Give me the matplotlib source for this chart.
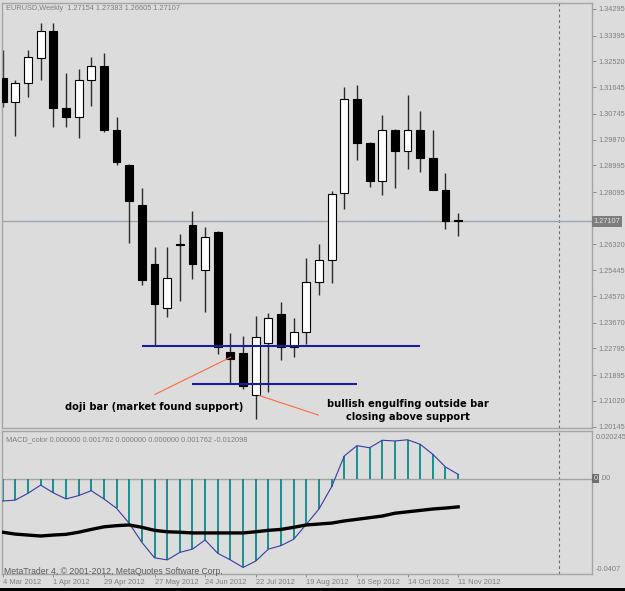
import matplotlib
matplotlib.use("Agg")
import matplotlib.pyplot as plt
import matplotlib.transforms as mtransforms
from matplotlib.patches import Rectangle

# ---------------- data ----------------
week_idx = list(range(37))
opens = [1.3196, 1.3114, 1.3178, 1.3264, 1.3355, 1.3095, 1.3063, 1.3189, 1.3236, 1.3020,
         1.2901, 1.2766, 1.2565, 1.2415, 1.2634, 1.2698, 1.2545, 1.2675, 1.2267, 1.2264,
         1.2122, 1.2297, 1.2396, 1.2283, 1.2336, 1.2504, 1.2579, 1.2805, 1.3124, 1.2977,
         1.2848, 1.3020, 1.2950, 1.3020, 1.2924, 1.2818, 1.27154]
highs = [1.3291, 1.3189, 1.3291, 1.3383, 1.3381, 1.3212, 1.3225, 1.3266, 1.3279, 1.3063,
         1.2905, 1.2822, 1.2622, 1.2624, 1.2666, 1.2745, 1.2690, 1.2678, 1.2331, 1.2322,
         1.2390, 1.2399, 1.2438, 1.2382, 1.2587, 1.2633, 1.2814, 1.3164, 1.3171, 1.2980,
         1.3069, 1.3022, 1.3138, 1.3084, 1.3020, 1.2873, 1.27383]
lows = [1.3098, 1.3000, 1.3132, 1.3189, 1.3031, 1.3031, 1.2994, 1.3102, 1.3014, 1.2901,
        1.2638, 1.2494, 1.2288, 1.2385, 1.2440, 1.2515, 1.2404, 1.2260, 1.2158, 1.2141,
        1.2040, 1.2133, 1.2240, 1.2252, 1.2294, 1.2461, 1.2500, 1.2751, 1.2918, 1.2826,
        1.2799, 1.2822, 1.2888, 1.2878, 1.2815, 1.2685, 1.26605]
closes = [1.3114, 1.3179, 1.3266, 1.3355, 1.3095, 1.3063, 1.3189, 1.3236, 1.3020, 1.2912,
          1.2780, 1.2511, 1.2429, 1.2517, 1.2631, 1.2566, 1.2658, 1.2286, 1.2244, 1.2153,
          1.2317, 1.2382, 1.2283, 1.2336, 1.2506, 1.2579, 1.2803, 1.3125, 1.2977, 1.2848,
          1.3020, 1.2950, 1.3020, 1.2924, 1.2816, 1.2712, 1.27107]

macd = [-0.0096, -0.0092, -0.0063, -0.0028, -0.0061, -0.0087, -0.0073, -0.0052, -0.0087, -0.0127,
        -0.0191, -0.0272, -0.0338, -0.0347, -0.0315, -0.0301, -0.0262, -0.0319, -0.0347, -0.0379,
        -0.0352, -0.0301, -0.0286, -0.0259, -0.0195, -0.0130, -0.0035, 0.0096, 0.0140, 0.0131,
        0.0163, 0.0160, 0.0165, 0.0146, 0.0103, 0.0049, 0.001762]
signal = [-0.0229, -0.0237, -0.0241, -0.0245, -0.0241, -0.0238, -0.0229, -0.0217, -0.0206, -0.0201,
          -0.0198, -0.0208, -0.0221, -0.0227, -0.0229, -0.0232, -0.0232, -0.0232, -0.0232, -0.0232,
          -0.0227, -0.0221, -0.0217, -0.0208, -0.0198, -0.0194, -0.0190, -0.0181, -0.0174, -0.0167,
          -0.0160, -0.0148, -0.0142, -0.0136, -0.0130, -0.0126, -0.012098]

price_ticks = [1.34295, 1.33395, 1.32520, 1.31645, 1.30745, 1.29870, 1.28995, 1.28095, 1.27220,
               1.26320, 1.25445, 1.24570, 1.23670, 1.22795, 1.21895, 1.21020, 1.20145]
hidden_tick = 1.27220   # label covered by the current-price box in the reference
date_tick_idx = [0, 4, 8, 12, 16, 20, 24, 28, 32, 36]
date_labels = ["4 Mar 2012", "1 Apr 2012", "29 Apr 2012", "27 May 2012", "24 Jun 2012",
               "22 Jul 2012", "19 Aug 2012", "16 Sep 2012", "14 Oct 2012", "11 Nov 2012"]
last_price = 1.27107
future_line_idx = 44

# support lines: (price, start index, end index)
supports = [(1.2287, 11, 33), (1.2158, 15, 28)]
# annotation pointer lines: (x0, y0, x1, y1)
pointers = [(18.02, 1.2250, 12.04, 1.2124), (20.28, 1.2120, 24.95, 1.2054)]
notes = [(11.94, 1.2080, "doji bar (market found support)"),
         (32.0, 1.2091, "bullish engulfing outside bar"),
         (32.0, 1.2046, "closing above support")]

title_txt = "EURUSD,Weekly  1.27154 1.27383 1.26605 1.27107"
macd_txt = "MACD_color 0.000000 0.001762 0.000000 0.000000 0.001762 -0.012098"
copy_txt = "MetaTrader 4, \u00a9 2001-2012, MetaQuotes Software Corp."

# ---------------- style ----------------
BG = "#dcdcdc"
GRAY = "#7f7f7f"
BORDER = "#a4a4a4"
SMALL = dict(family="Liberation Sans", fontsize=5.3, color=GRAY)

W, H = 625, 591
fig = plt.figure(figsize=(W / 100, H / 100), dpi=100, facecolor=BG)
ax1 = fig.add_axes([2 / W, 1 - 428 / H, 590 / W, 425 / H], facecolor=BG)
ax2 = fig.add_axes([2 / W, 1 - 574 / H, 590 / W, 143 / H], facecolor=BG)

xlim = (-0.055, 46.58)
for ax in (ax1, ax2):
    ax.set_xlim(*xlim)
    for s in ax.spines.values():
        s.set_color(BORDER)
        s.set_linewidth(1.0)
    ax.axvline(future_line_idx, color="#6a6a6a", lw=0.8, ls=(0, (2.5, 2.5)), zorder=1)

# ---------------- price panel ----------------
ax1.set_ylim(1.20101, 1.34498)
ax1.axhline(last_price, color="#9ba5ad", lw=1.0, zorder=1)

up = [c >= o for o, c in zip(opens, closes)]
ax1.vlines(week_idx, lows, highs, color="#2a2a2a", lw=1.0, zorder=2)
bottoms = [min(o, c) for o, c in zip(opens, closes)]
heights = [max(abs(c - o), 0.00005) for o, c in zip(opens, closes)]
colors = ["white" if u else "black" for u in up]
ax1.bar(week_idx, heights, bottom=bottoms, width=0.62, color=colors,
        edgecolor="black", linewidth=0.8, zorder=3)

for p, x0, x1 in supports:
    ax1.hlines(p, x0, x1, color="#1c1ca0", lw=1.5, zorder=4)
for x0, y0, x1, y1 in pointers:
    ax1.plot([x0, x1], [y0, y1], color="#ff6a3a", lw=0.8, zorder=4)
for x, y, t in notes:
    ax1.text(x, y, t, ha="center", va="center", fontsize=7.1, fontweight="heavy",
             family="DejaVu Sans", color="black", zorder=5)

ax1.set_xticks([])
ax1.yaxis.tick_right()
ax1.set_yticks(price_ticks)
ax1.set_yticklabels(["" if v == hidden_tick else f"{v:.5f}" for v in price_ticks])
ax1.tick_params(axis="y", length=3, width=0.6, color=GRAY, pad=1.5,
                labelsize=5.3, labelcolor=GRAY)
for lab in ax1.get_yticklabels():
    lab.set_family("Liberation Sans")

trans1 = mtransforms.blended_transform_factory(ax1.transAxes, ax1.transData)
ax1.text(1.003, last_price, f"{last_price:.5f}", transform=trans1, ha="left", va="center",
         family="Liberation Sans", fontsize=5.3, color="#e6e6e6", zorder=10, clip_on=False,
         bbox=dict(facecolor="#7d7d7d", edgecolor="none", boxstyle="square,pad=0.25"))

# ---------------- MACD panel ----------------
ax2.set_ylim(-0.0407, 0.020245)
ax2.axhline(0, color=BORDER, lw=1.0, zorder=1)
ax2.vlines(week_idx, 0, macd, color="#16908f", lw=1.4, zorder=2)
ax2.plot(week_idx, macd, color="#3a3aa6", lw=0.8, zorder=3)
ax2.plot(week_idx, signal, color="black", lw=2.4, zorder=4)

ax2.set_yticks([])
ax2.set_xticks(date_tick_idx)
ax2.set_xticklabels(date_labels, ha="left")
ax2.tick_params(axis="x", length=2.5, width=0.6, color=GRAY, pad=0.8,
                labelsize=5.4, labelcolor=GRAY)
for lab in ax2.get_xticklabels():
    lab.set_family("Liberation Sans")

ax2.text(1.006, 0.956, "0.020245", transform=ax2.transAxes, ha="left", va="center", **SMALL)
ax2.text(1.006, 0.033, "-0.0407", transform=ax2.transAxes, ha="left", va="center", **SMALL)
trans2 = mtransforms.blended_transform_factory(ax2.transAxes, ax2.transData)
ax2.text(1.003, 0, "0", transform=trans2, ha="left", va="center", family="Liberation Sans",
         fontsize=5.3, color="#e6e6e6", clip_on=False,
         bbox=dict(facecolor="#6e6e6e", edgecolor="none", boxstyle="square,pad=0.2"))
ax2.text(1.0135, 0, ".00", transform=trans2, ha="left", va="center", **SMALL)

# ---------------- header texts ----------------
fig.text(6 / W, 1 - 8 / H, title_txt, ha="left", va="center", **SMALL)
fig.text(6 / W, 1 - 439.5 / H, macd_txt, ha="left", va="center", **SMALL)
fig.text(4 / W, 1 - 571 / H, copy_txt, ha="left", va="center", family="Liberation Sans",
         fontsize=6.2, color="#5a5a5a")

fig.add_artist(Rectangle((0, 0), 1, 3 / H, transform=fig.transFigure,
                         facecolor="black", edgecolor="none"))

fig.savefig("out.png", dpi=100, facecolor=BG)
